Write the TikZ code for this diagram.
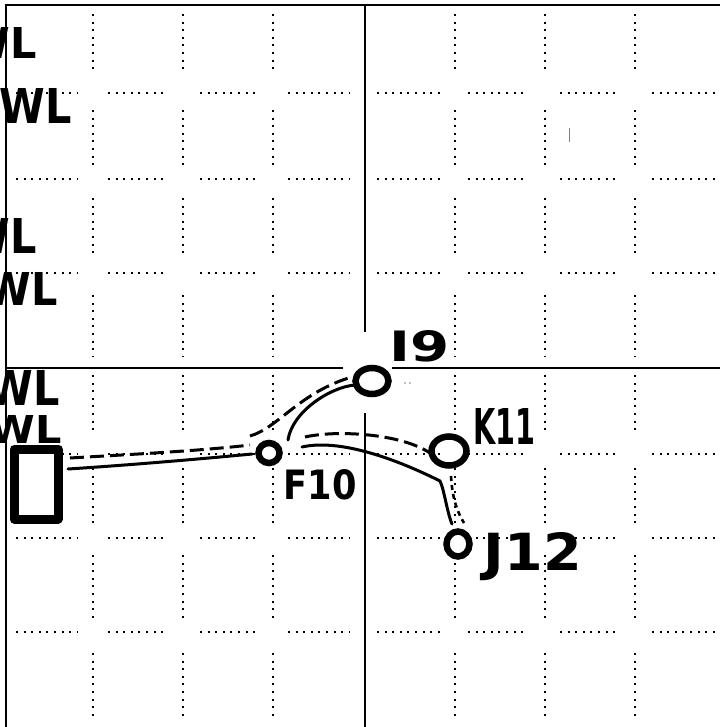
\documentclass[tikz,border=0pt]{standalone}
\usepackage{fontspec}
\setmainfont{DejaVu Sans}
\usepackage{graphicx}
\usetikzlibrary{shapes.geometric}
\tikzset{
  gridsolid/.style={line width=1.6pt, black},
  dotseg/.style={line width=2pt, dash pattern=on 2pt off 5.6pt},
  hcirc/.style={ellipse, draw, line width=6.5pt, inner sep=0pt, outer sep=0pt},
  hbox/.style={rectangle, draw, fill=white, line width=9pt, inner sep=0pt, outer sep=0pt, minimum width=44pt, minimum height=70pt, line join=round},
  hlabel/.style={inner sep=0pt, outer sep=0pt, font=\bfseries},
  solidc/.style={line width=3pt, line cap=round, line join=round},
  dashc/.style={line width=3pt, dash pattern=on 14pt off 6pt},
  dotc/.style={line width=2.6pt, dash pattern=on 5pt off 4pt},
}
\newcommand{\hw}[3]{\resizebox{#1pt}{#2pt}{#3}}
\begin{document}
\begin{tikzpicture}[x=1pt,y=-1pt]
\useasboundingbox (0,0) rectangle (720,727);
\clip (0,0) rectangle (720,727);
\fill[white] (0,0) rectangle (720,727);

% dotted grid segments
\foreach \x in {93,183,273,455,545,635}
  \foreach \a/\b in {14/74,110/165,198/258,295/356,375/435,468/525,555/618,653/716}
    \draw[dotseg] (\x,\a) -- (\x,\b);
\foreach \y in {93,179,273,454,538,632}
  \foreach \a/\b in {16/78,108/163,200/256,288/350,377/440,468/525,560/617,652/718}
    \draw[dotseg] (\a,\y) -- (\b,\y);

% solid grid lines
\draw[gridsolid] (5,5) -- (720,5);
\draw[gridsolid] (6,5) -- (6,727);
\draw[gridsolid] (365,5) -- (365,332);
\draw[gridsolid] (365,413) -- (365,727);
\draw[gridsolid] (6,368) -- (343,368);
\draw[gridsolid] (392,368) -- (720,368);

% small marks
\draw[gray, line width=0.8pt] (569,128) -- (569,142);
\fill[gray] (405,383) circle (0.8pt) (410,383) circle (0.8pt);

% clipped WL labels at left edge
\node[hlabel, anchor=east] (wl1) at (37,43) {\hw{72}{31}{WL}};
\node[hlabel, anchor=east] (wl2) at (72,106) {\hw{72}{35}{WL}};
\node[hlabel, anchor=east] (wl3) at (37,236) {\hw{72}{35}{WL}};
\node[hlabel, anchor=east] (wl4) at (58,289) {\hw{72}{33}{WL}};
\node[hlabel, anchor=east] (wl5) at (60,388) {\hw{72}{35}{WL}};
\node[hlabel, anchor=east] (wl6) at (62,429) {\hw{72}{28}{WL}};

% box
\node[hbox] (box) at (36,484) {};

% nodes (circles)
\node[hcirc, minimum width=21pt, minimum height=20pt] (F10) at (269,453) {};
\node[hcirc, minimum width=33pt, minimum height=26pt] (I9) at (372,381) {};
\node[hcirc, minimum width=35pt, minimum height=29pt] (K11) at (449,451) {};
\node[hcirc, minimum width=23pt, minimum height=25pt] (J12) at (458,544) {};

% labels
\node[hlabel] (lF10) at (320,485) {\hw{73}{30}{F10}};
\node[hlabel] (lI9) at (420,346) {\hw{60}{31}{I9}};
\node[hlabel] (lK11) at (504,426) {\hw{62}{36}{K11}};
\node[hlabel] (lJ12) at (533,557) {\hw{98}{38}{J12}};

% connectors
\draw[solidc] ([shift={(32,-15)}]box.center) .. controls +(62,-4) and +(-52,5) .. ([shift={(-17,1)}]F10.center);
\draw[dashc] ([shift={(34,-26)}]box.center) .. controls +(50,-3) and +(-50,6) .. ([shift={(-19,-8)}]F10.center);
\draw[solidc] ([shift={(19,-13)}]F10.center) .. controls +(4,-28) and +(-25,2) .. ([shift={(-17,4)}]I9.center);
\draw[dashc] ([shift={(-19,-17)}]F10.center) .. controls +(28,-8) and +(-52,15) .. ([shift={(-20,-4)}]I9.center);
\draw[solidc] ([shift={(33,-6)}]F10.center) .. controls +(35,-8) and +(-50,-25) .. ([shift={(-9,30)}]K11.center)
   .. controls +(4,8) and +(-5,-12) .. ([shift={(-6,-20)}]J12.center);
\draw[dashc] ([shift={(36,-16)}]F10.center) .. controls +(30,-7) and +(-30,-20) .. ([shift={(-19,2)}]K11.center);
\draw[dotc] ([shift={(2,25)}]K11.center) .. controls +(1,19) and +(-8,-13) .. ([shift={(6,-21)}]J12.center);
\end{tikzpicture}
\end{document}
